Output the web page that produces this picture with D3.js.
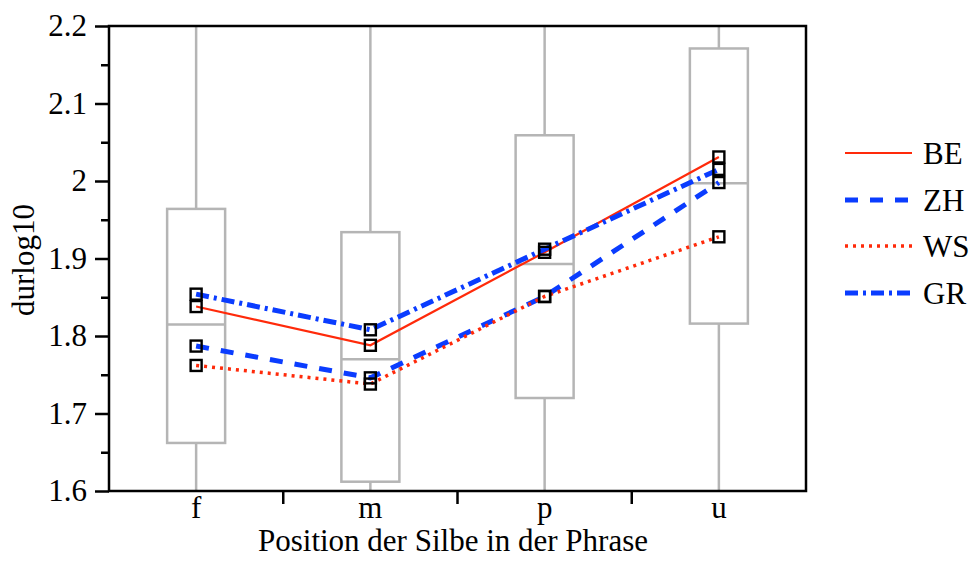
<!DOCTYPE html>
<html><head><meta charset="utf-8">
<script src="https://cdn.jsdelivr.net/npm/d3@7"></script>
<style>body{margin:0;background:#fff}svg{display:block}</style>
</head><body>
<svg id="c" width="971" height="565"></svg>
<script>
const categories = ["f","m","p","u"];
const boxQ1     = [1.662, 1.612, 1.720, 1.816];
const boxMedian = [1.815, 1.770, 1.893, 1.997];
const boxQ3     = [1.964, 1.934, 2.059, 2.171];
const whiskLo   = [1.45, 1.45, 1.45, 1.45];
const whiskHi   = [2.35, 2.35, 2.35, 2.35];
const seriesNames = ["BE","ZH","WS","GR"];
const BE = [1.838, 1.788, 1.908, 2.031];
const ZH = [1.787, 1.746, 1.851, 1.998];
const WS = [1.762, 1.738, 1.851, 1.928];
const GR = [1.854, 1.808, 1.912, 2.015];
const yTicks = [1.6,1.7,1.8,1.9,2.0,2.1,2.2];
const yMinor = [1.65,1.75,1.85,1.95,2.05,2.15];

const seriesData = {BE, ZH, WS, GR};
const red = "#ff2a0a", blue = "#0a3cff";
const styles = {
  BE: {color: red,  width: 2.2, dash: null},
  ZH: {color: blue, width: 5,   dash: "13,12"},
  WS: {color: red,  width: 3.5, dash: "3,5"},
  GR: {color: blue, width: 5,   dash: "13,5,3,5"}
};
const font = "'Liberation Serif','Times New Roman',serif";
const fs = 31;

const L = 109, R = 806, T = 26, B = 491;
const svg = d3.select("#c");
const x = d3.scaleBand().domain(categories).range([L, R]).padding(0);
const y = d3.scaleLinear().domain([1.6, 2.2]).range([B, T]);
const cx = c => x(c) + x.bandwidth()/2;

svg.append("clipPath").attr("id","clip").append("rect")
  .attr("x",L).attr("y",T).attr("width",R-L).attr("height",B-T);
const plot = svg.append("g").attr("clip-path","url(#clip)");

// boxes
const boxW = 58, grey = "#b5b5b5";
categories.forEach((c,i) => {
  const g = plot.append("g").attr("stroke",grey).attr("stroke-width",2.5).attr("fill","none");
  g.append("line").attr("x1",cx(c)).attr("x2",cx(c)).attr("y1",y(boxQ3[i])).attr("y2",y(whiskHi[i]));
  g.append("line").attr("x1",cx(c)).attr("x2",cx(c)).attr("y1",y(boxQ1[i])).attr("y2",y(whiskLo[i]));
  g.append("rect").attr("x",cx(c)-boxW/2).attr("width",boxW)
    .attr("y",y(boxQ3[i])).attr("height",y(boxQ1[i])-y(boxQ3[i]));
  g.append("line").attr("x1",cx(c)-boxW/2).attr("x2",cx(c)+boxW/2)
    .attr("y1",y(boxMedian[i])).attr("y2",y(boxMedian[i]));
});

// lines
const line = d3.line().x((d,i)=>cx(categories[i])).y(d=>y(d));
seriesNames.forEach(n => {
  const s = styles[n];
  plot.append("path").datum(seriesData[n]).attr("d",line).attr("fill","none")
    .attr("stroke",s.color).attr("stroke-width",s.width)
    .attr("stroke-dasharray",s.dash);
});
// markers
seriesNames.forEach(n => {
  plot.selectAll(null).data(seriesData[n]).enter().append("rect")
    .attr("x",(d,i)=>cx(categories[i])-5.5).attr("y",d=>y(d)-5.5)
    .attr("width",11).attr("height",11)
    .attr("fill","none").attr("stroke","#000").attr("stroke-width",2.4);
});

// frame
svg.append("rect").attr("x",L).attr("y",T).attr("width",R-L).attr("height",B-T)
  .attr("fill","none").attr("stroke","#000").attr("stroke-width",2.5);

// y axis
const yAxis = svg.append("g").attr("transform",`translate(${L},0)`)
  .call(d3.axisLeft(y).tickValues(yTicks).tickSize(14).tickPadding(8)
    .tickFormat(d => d3.format("")(+d.toFixed(1))));
yAxis.select(".domain").remove();
yAxis.selectAll("line").attr("stroke","#000").attr("stroke-width",2.5);
yAxis.selectAll("text").attr("font-family",font).attr("font-size",fs).attr("fill","#000");
const yMin = svg.append("g").attr("transform",`translate(${L},0)`)
  .call(d3.axisLeft(y).tickValues(yMinor).tickSize(8).tickFormat(""));
yMin.select(".domain").remove();
yMin.selectAll("line").attr("stroke","#000").attr("stroke-width",2.5);

// x axis
const xAxis = svg.append("g").attr("transform",`translate(0,${B})`)
  .call(d3.axisBottom(x).tickSize(0).tickPadding(5));
xAxis.select(".domain").remove();
xAxis.selectAll("text").attr("font-family",font).attr("font-size",fs).attr("fill","#000")
  .attr("dy","0.71em");
// category separator ticks
svg.append("g").selectAll("line").data(categories.slice(1)).enter().append("line")
  .attr("x1",c=>x(c)).attr("x2",c=>x(c)).attr("y1",B).attr("y2",B+13)
  .attr("stroke","#000").attr("stroke-width",2.5);

// titles
svg.append("text").attr("x",453).attr("y",551).attr("text-anchor","middle")
  .attr("font-family",font).attr("font-size",fs).text("Position der Silbe in der Phrase");
svg.append("text").attr("transform","translate(34,260) rotate(-90)").attr("text-anchor","middle")
  .attr("font-family",font).attr("font-size",fs).text("durlog10");

// legend
const legY = [153,200,246,293];
seriesNames.forEach((n,i) => {
  const s = styles[n];
  svg.append("line").attr("x1",845).attr("x2",912).attr("y1",legY[i]).attr("y2",legY[i])
    .attr("stroke",s.color).attr("stroke-width",s.width).attr("stroke-dasharray",s.dash);
  svg.append("text").attr("x",923).attr("y",legY[i]+11).attr("font-family",font)
    .attr("font-size",fs).text(n);
});
</script>
</body></html>
